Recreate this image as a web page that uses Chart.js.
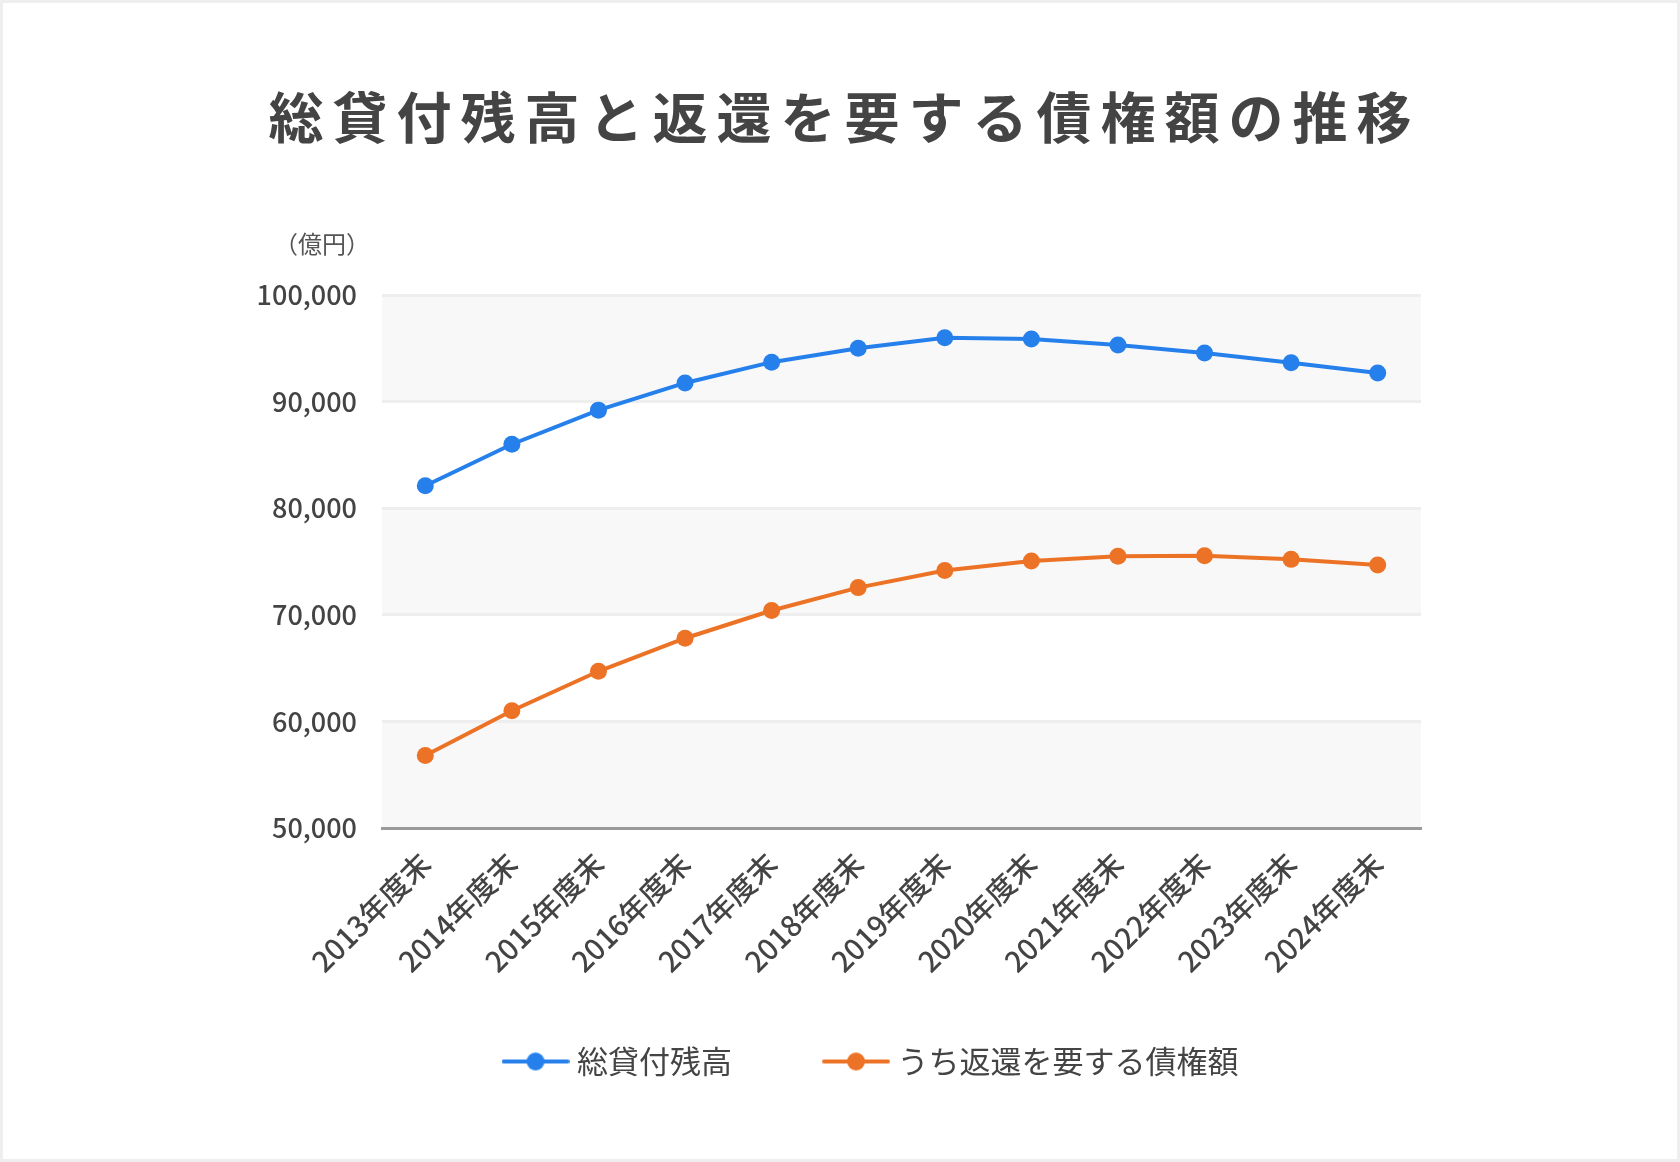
<!DOCTYPE html>
<html lang="ja">
<head>
<meta charset="utf-8">
<title>総貸付残高と返還を要する債権額の推移</title>
<script src="https://cdn.jsdelivr.net/npm/chart.js@4.4.1/dist/chart.umd.min.js"></script>
<style>
  html, body { margin: 0; padding: 0; background: #eeeeee; }
  #frame { position: absolute; left: 3px; top: 3px; width: 1674px; height: 1156px; background: #fff; }
  #title {
    position: absolute; left: 0; top: 84px; width: 1674px; text-align: center;
    font-family: 'Noto Sans CJK JP', sans-serif; font-weight: 700; font-size: 55px;
    line-height: 55px; letter-spacing: 9px; padding-left: 9px; box-sizing: border-box; color: #444;
  }
  #chart { position: absolute; left: 0; top: 0; }
</style>
</head>
<body>
<div id="frame">
  <canvas id="chart" width="1674" height="1156"></canvas>
  <div id="title">総貸付残高と返還を要する債権額の推移</div>
</div>
<script>
// data
var years = ['2013年度末', '2014年度末', '2015年度末', '2016年度末', '2017年度末', '2018年度末',
             '2019年度末', '2020年度末', '2021年度末', '2022年度末', '2023年度末', '2024年度末'];
var seriesNames = ['総貸付残高', 'うち返還を要する債権額'];
var totalLoans = [82100, 86000, 89200, 91750, 93700, 95000, 96000, 95870, 95300, 94550, 93650, 92680];
var repayable = [56800, 61000, 64700, 67800, 70400, 72550, 74150, 75050, 75500, 75530, 75200, 74680];
var yTicks = [50000, 60000, 70000, 80000, 90000, 100000];
var unitLabel = '（億円）';

(function () {
  var BLUE = '#2680eb', ORANGE = '#ec7326', TEXT = '#444';
  Chart.defaults.font.family = "'Noto Sans CJK JP', 'Noto Sans', sans-serif";
  Chart.defaults.color = TEXT;

  // legend marker: line with a dot
  function marker(color) {
    var c = document.createElement('canvas');
    c.width = 68; c.height = 20;
    var g = c.getContext('2d');
    g.strokeStyle = color; g.lineWidth = 4; g.lineCap = 'round';
    g.beginPath(); g.moveTo(2, 10); g.lineTo(66, 10); g.stroke();
    g.fillStyle = color;
    g.beginPath(); g.arc(34, 10, 9, 0, Math.PI * 2); g.fill();
    return c;
  }
  var markers = [marker(BLUE), marker(ORANGE)];

  // alternating grey bands, unit label, legend placement
  var bands = {
    id: 'bands',
    afterLayout: function (chart) {
      var lg = chart.legend;
      var h = lg.bottom - lg.top;
      lg.left = 324; lg.right = 1418;
      lg.top = 945; lg.bottom = 945 + h;
    },
    beforeDraw: function (chart) {
      var y = chart.scales.y, a = chart.chartArea, ctx = chart.ctx;
      ctx.save();
      ctx.fillStyle = '#f8f8f8';
      for (var i = 0; i < yTicks.length - 1; i += 2) {
        var top = y.getPixelForValue(yTicks[yTicks.length - 1 - i]);
        var bot = y.getPixelForValue(yTicks[yTicks.length - 2 - i]);
        ctx.fillRect(a.left, top, a.right - a.left, bot - top);
      }
      ctx.restore();
    },
    afterDraw: function (chart) {
      var ctx = chart.ctx;
      ctx.save();
      ctx.font = "24px 'Noto Sans CJK JP', sans-serif";
      ctx.fillStyle = '#555';
      ctx.textAlign = 'right';
      ctx.textBaseline = 'middle';
      ctx.fillText(unitLabel, chart.chartArea.left - 12, 241);
      ctx.restore();
    }
  };

  new Chart(document.getElementById('chart'), {
    type: 'line',
    data: {
      labels: years,
      datasets: [
        { label: seriesNames[0], data: totalLoans, borderColor: BLUE, backgroundColor: BLUE,
          borderWidth: 4, pointRadius: 8.5, pointBorderWidth: 0, pointBackgroundColor: BLUE, tension: 0 },
        { label: seriesNames[1], data: repayable, borderColor: ORANGE, backgroundColor: ORANGE,
          borderWidth: 4, pointRadius: 8.5, pointBorderWidth: 0, pointBackgroundColor: ORANGE, tension: 0 }
      ]
    },
    options: {
      responsive: false,
      animation: false,
      layout: { padding: { left: 150, right: 256, top: 292, bottom: 32 } },
      scales: {
        x: {
          offset: true,
          grid: { display: false },
          border: { display: true, color: '#9a9a9a', width: 3 },
          ticks: { autoSkip: false, minRotation: 45, maxRotation: 45, padding: 10,
                   font: { size: 29, weight: '500' }, color: TEXT },
          afterFit: function (s) { s.height = 160; }
        },
        y: {
          min: 50000, max: 100000,
          grid: { color: '#eeeeee', lineWidth: 3, drawTicks: false },
          border: { display: false },
          ticks: { stepSize: 10000, padding: 25, font: { size: 27, weight: '500' }, color: TEXT,
                   callback: function (v) { return Number(v).toLocaleString('en-US'); } },
          afterFit: function (s) { s.width = 229; }
        }
      },
      plugins: {
        title: { display: false },
        tooltip: { enabled: false },
        legend: {
          position: 'bottom',
          labels: {
            usePointStyle: true, pointStyleWidth: 52, padding: 98,
            font: { size: 31 }, color: TEXT,
            generateLabels: function (chart) {
              return Chart.defaults.plugins.legend.labels.generateLabels(chart).map(function (l, i) {
                l.pointStyle = markers[i];
                return l;
              });
            }
          }
        }
      }
    },
    plugins: [bands]
  });
})();
</script>
</body>
</html>
